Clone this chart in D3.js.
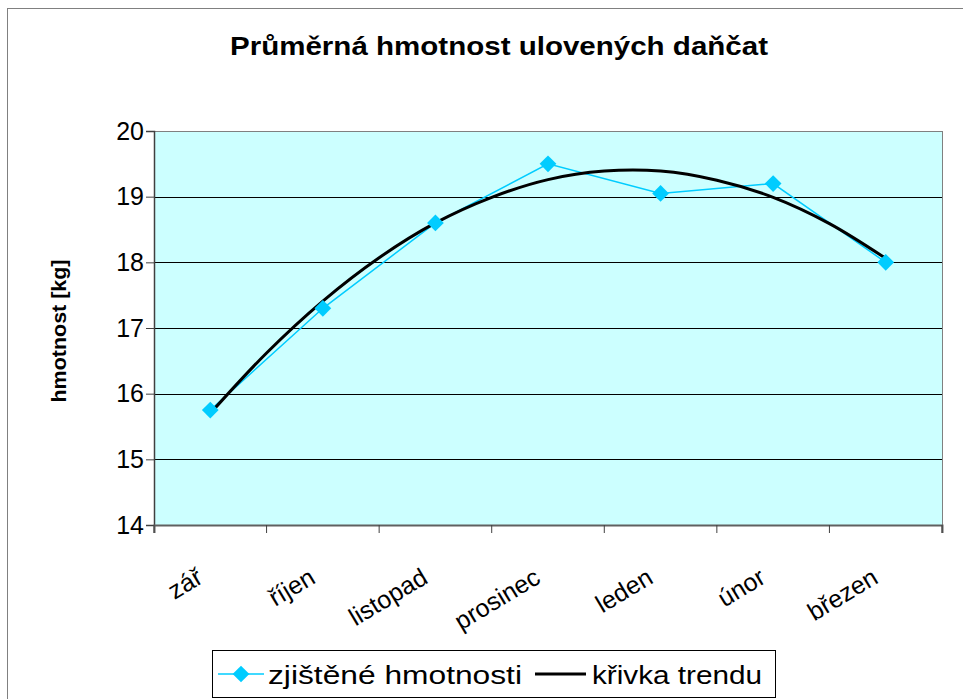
<!DOCTYPE html>
<html><head><meta charset="utf-8">
<script src="https://cdn.jsdelivr.net/npm/d3@7"></script>
<style>body{margin:0;background:#fff}svg{display:block;font-family:"Liberation Sans",Arial,sans-serif}</style>
</head><body><svg id="c" width="963" height="699"></svg>
<script>
const months = ["zář","říjen","listopad","prosinec","leden","únor","březen"];
const measured = [15.75,17.3,18.6,19.5,19.05,19.2,18.0];
// trend curve at half-month steps (index positions)
const trendPos = [0,0.5,1,1.5,2,2.5,3,3.5,4,4.5,5,5.5,6];
const trendVal = [15.70,16.62,17.41,18.07,18.60,18.99,19.26,19.39,19.39,19.25,18.99,18.59,18.06];
const yTicks = [14,15,16,17,18,19,20];

const svg = d3.select("#c");
const L=154, R=942, T=131, B=525;
svg.append("rect").attr("x",7.5).attr("y",8.5).attr("width",970).attr("height",700).attr("fill","#fff").attr("stroke","#808080");
svg.append("text").attr("x",230).attr("y",55).attr("font-weight","bold").attr("font-size",25)
  .attr("textLength",538).attr("lengthAdjust","spacingAndGlyphs").text("Průměrná hmotnost ulovených daňčat");

const x = d3.scaleBand().domain(months).range([L,R]);
const xc = i => x(months[0]) + x.bandwidth()*(i+0.5);
const y = d3.scaleLinear().domain([14,20]).range([B,T]);

svg.append("rect").attr("x",L).attr("y",T).attr("width",R-L).attr("height",B-T).attr("fill","#CCFFFF");
svg.append("g").selectAll("line").data(yTicks.slice(1,-1)).join("line")
  .attr("x1",L).attr("x2",R).attr("y1",d=>Math.round(y(d))+0.5).attr("y2",d=>Math.round(y(d))+0.5).attr("stroke","#000");
svg.append("rect").attr("x",L+0.5).attr("y",T+0.5).attr("width",R-L).attr("height",B-T).attr("fill","none").attr("stroke","#808080");

const ya = svg.append("g").attr("transform",`translate(${L},0)`).call(d3.axisLeft(y).tickValues(yTicks).tickFormat(d3.format("d")).tickSize(8).tickPadding(2));
ya.select(".domain").attr("stroke","#404040").attr("stroke-width",1.5);
ya.selectAll("line").attr("stroke","#404040");
ya.selectAll("text").attr("font-size",25).attr("fill","#000").attr("font-family","Liberation Sans, Arial, sans-serif");

const xa = svg.append("g").attr("transform",`translate(0,${B})`).call(d3.axisBottom(x).tickSize(8).tickSizeOuter(8).tickFormat(""));
xa.select(".domain").attr("stroke","#606060").attr("stroke-width",2);
xa.selectAll(".tick line").attr("transform",`translate(${-x.bandwidth()/2},0)`).attr("stroke","#404040");
xa.append("line").attr("x1",R).attr("x2",R).attr("y1",0).attr("y2",8).attr("stroke","#404040");
svg.append("g").selectAll("text").data(months).join("text")
  .attr("transform",(d,i)=>`translate(${xc(i)-6},${B+57}) rotate(-31)`)
  .attr("text-anchor","end").attr("font-size",25).attr("fill","#000").text(d=>d);

svg.append("text").attr("transform",`translate(66,${(T+B)/2+3}) rotate(-90)`).attr("text-anchor","middle")
  .attr("font-weight","bold").attr("font-size",21).attr("textLength",143).attr("lengthAdjust","spacingAndGlyphs").text("hmotnost [kg]");

const cyan="#00CCFF";
svg.append("path").datum(measured).attr("fill","none").attr("stroke",cyan).attr("stroke-width",1.5)
  .attr("d",d3.line().x((d,i)=>xc(i)).y(d=>y(d)));
svg.append("path").datum(trendVal).attr("fill","none").attr("stroke","#000").attr("stroke-width",3)
  .attr("d",d3.line().x((d,i)=>xc(trendPos[i])).y(d=>y(d)).curve(d3.curveCatmullRom));
svg.append("g").selectAll("path").data(measured).join("path")
  .attr("transform",(d,i)=>`translate(${xc(i)},${y(d)}) rotate(45)`)
  .attr("d",d3.symbol().type(d3.symbolSquare).size(140)).attr("fill",cyan);

const lg = svg.append("g");
lg.append("rect").attr("x",212.5).attr("y",650.5).attr("width",563).attr("height",47).attr("fill","#fff").attr("stroke","#000");
lg.append("line").attr("x1",218).attr("x2",264).attr("y1",674).attr("y2",674).attr("stroke",cyan).attr("stroke-width",1.5);
lg.append("path").attr("transform","translate(241,674) rotate(45)").attr("d",d3.symbol().type(d3.symbolSquare).size(140)).attr("fill",cyan);
lg.append("text").attr("x",268).attr("y",684).attr("font-size",26).attr("textLength",254).attr("lengthAdjust","spacingAndGlyphs").text("zjištěné hmotnosti");
lg.append("line").attr("x1",535).attr("x2",586).attr("y1",674).attr("y2",674).attr("stroke","#000").attr("stroke-width",3);
lg.append("text").attr("x",592).attr("y",684).attr("font-size",26).attr("textLength",170).attr("lengthAdjust","spacingAndGlyphs").text("křivka trendu");
</script></body></html>
